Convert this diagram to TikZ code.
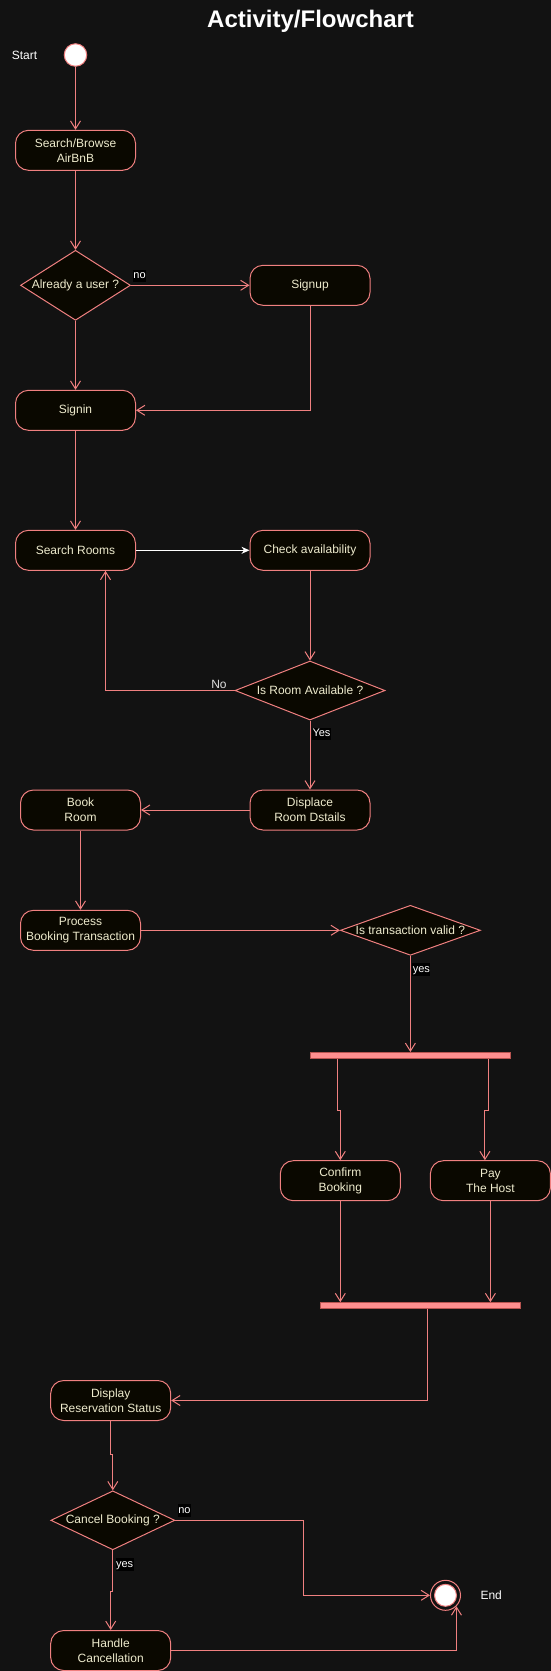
\documentclass[tikz,border=0pt]{standalone}
\usepackage{fontspec}
\setmainfont{Liberation Sans}
\usepackage{tikz}
\usetikzlibrary{arrows.meta,shapes.geometric,positioning}
\definecolor{bg}{HTML}{121212}
\definecolor{edgecol}{HTML}{F08080}
\definecolor{boxfill}{HTML}{0A0800}
\definecolor{cream}{HTML}{EEEBCD}
\definecolor{barfill}{HTML}{FF8F8F}
\definecolor{barline}{HTML}{B85450}
\newcommand{\boxfont}{\fontsize{12}{15}\selectfont}
\newcommand{\tagfont}{\fontsize{11}{13}\selectfont}
\tikzset{
  actbox/.style={ draw=edgecol, fill=boxfill, rounded corners=13pt, minimum width=120pt, minimum height=40pt, inner sep=0pt, align=center, text=cream, font=\boxfont }
}
\tikzset{
  decide/.style={ draw=edgecol, fill=boxfill, diamond, inner sep=0pt }
}
\tikzset{
  dtext/.style={ text=cream, font=\boxfont, inner sep=0pt }
}
\tikzset{
  startdot/.style={ draw=edgecol, fill=white, circle, minimum size=22.5pt, inner sep=0pt }
}
\tikzset{
  enddot/.style={ draw=edgecol, circle, minimum size=30pt, inner sep=0pt,
    path picture={\fill[white, draw=edgecol] (path picture bounding box.center) circle (11pt);} }
}
\tikzset{
  forkbar/.style={ draw=barline, fill=barfill, minimum width=200pt, minimum height=6pt, inner sep=0pt }
}
\tikzset{
  tag/.style={ fill=black, text=white, font=\tagfont, inner xsep=0.5pt, inner ysep=1pt, text height=8pt, text depth=2.5pt }
}
\tikzset{
  flow/.style={ draw=edgecol, -{Straight Barb[length=8pt,width=10pt]} }
}

\begin{document}
\begin{tikzpicture}[x=1pt, y=-1pt, line width=1pt]
      \useasboundingbox[fill=bg] (0,0) rectangle (551,1671);

      \node[font=\bfseries\fontsize{24}{28}\selectfont, text=white] (title) at (310.6, 21) {Activity/Flowchart};

      % first steps
      \node[startdot, label={[inner sep=0pt, text=white, font=\boxfont, label distance=26pt]left:Start}] (start) at (75.5, 55) {};
      \node[actbox] (browse) at (75.5, 150.3) {Search/Browse\\AirBnB};
      \node[decide, minimum width=110pt, minimum height=70pt, label={[dtext]center:Already a user ?}] (user) at (75.5, 285.3) {};
      \node[actbox] (signup) at (310, 285.3) {Signup};
      \node[actbox] (signin) at (75.5, 410.3) {Signin};

      % rooms
      \node[actbox] (rooms) at (75.5, 550.3) {Search Rooms};
      \node[actbox] (avail) at (310, 550.3) {Check availability};
      \node[decide, minimum width=150pt, minimum height=59pt, label={[dtext]center:Is Room Available ?}] (isfree) at (310, 690.5) {};
      \node[actbox] (details) at (310, 810) {Displace\\Room Dstails};
      \node[actbox] (book) at (80.5, 810) {Book\\Room};

      % booking
      \node[actbox] (process) at (80.5, 930.3) {Process\\Booking Transaction};
      \node[decide, minimum width=140pt, minimum height=50pt, label={[dtext]center:Is transaction valid ?}] (valid) at (410.4, 930.3) {};
      \node[forkbar] (fork) at (410.4, 1055.5) {};
      \node[actbox] (confirm) at (340.3, 1180.7) {Confirm\\Booking};
      \node[actbox] (pay) at (490.4, 1180.7) {Pay\\The Host};
      \node[forkbar] (join) at (420.6, 1305.7) {};

      % last steps
      \node[actbox] (status) at (110.7, 1400.5) {Display\\Reservation Status};
      \node[decide, minimum width=124pt, minimum height=59pt, label={[dtext]center:Cancel Booking ?}] (cancel) at (112.8, 1520.3) {};
      \node[enddot, label={[inner sep=0pt, text=white, font=\boxfont, label distance=19pt]right:End}] (finish) at (445.5, 1595.3) {};
      \node[actbox] (handle) at (110.7, 1650.5) {Handle\\Cancellation};

      \begin{scope}[flow]
        \draw (start) -- (browse);
        \draw (browse) -- (user);
        \draw (user) -- node[tag, pos=0, anchor=south west, xshift=1.4pt, yshift=2.6pt] {no} (signup);
        \draw (user) -- (signin);
        \draw (signup.south) |- (signin.east);
        \draw (signin) -- (rooms);

        \draw[white, -{Stealth[length=8pt,width=7pt]}] (rooms) -- (avail);
        \draw (avail) -- (isfree);
        \draw (isfree.west) -| node[pos=0, anchor=east, xshift=-7.4pt, yshift=6.5pt, inner sep=0pt, text=white!88!black, font=\boxfont] {No} ([xshift=30pt]rooms.south);
        \draw (isfree.south) -- node[tag, pos=0, anchor=north west, xshift=1.5pt, yshift=-6.7pt] {Yes} (details.north);
        \draw (details) -- (book);

        \draw (book) -- (process);
        \draw (process) -- (valid);
        \draw (valid.south) -- node[tag, pos=0, anchor=north west, xshift=1.4pt, yshift=-7pt] {yes} (fork.north);
        \draw ([xshift=-73.1pt]fork.south) |- ([yshift=50pt]confirm.north) -| (confirm.north);
        \draw ([xshift=78pt]fork.south) |- ([xshift=-5.5pt, yshift=50pt]pay.north) -- ([xshift=-5.5pt]pay.north);
        \draw (confirm) -- (confirm |- join.north);
        \draw (pay) -- (pay |- join.north);
        \draw ([xshift=6.7pt]join.south) |- (status.east);

        \draw (status.south) |- ([yshift=35.7pt]cancel.north) -| (cancel.north);
        \draw (cancel.east) -- node[tag, pos=0, anchor=south west, xshift=2pt, yshift=3pt] {no} ++(128.3pt,0) |- (finish.west);
        \draw (cancel.south) -- node[tag, pos=0, anchor=north west, xshift=2.2pt, yshift=-7.3pt] {yes} ([yshift=-40.7pt]cancel.south) -| (handle.north);
        \draw (handle.east) -| (finish.-45);
      \end{scope}
    \end{tikzpicture}
\end{document}
